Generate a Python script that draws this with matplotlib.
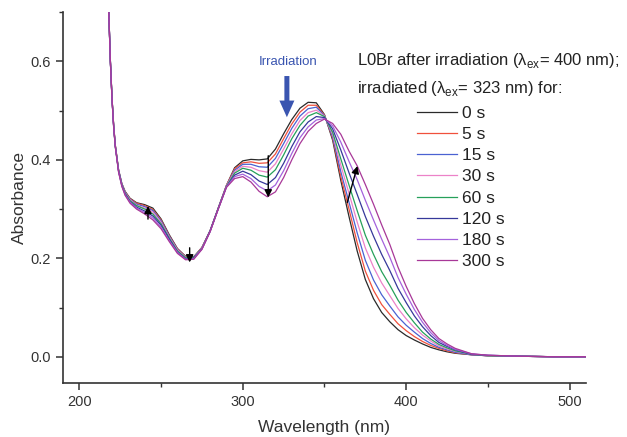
import matplotlib
matplotlib.use("Agg")
import matplotlib.pyplot as plt
from matplotlib.ticker import MultipleLocator

plt.rcParams["font.family"] = ["Liberation Sans", "DejaVu Sans"]
plt.rcParams["mathtext.fontset"] = "custom"
plt.rcParams["mathtext.rm"] = "Liberation Sans"

# длины волн (нм)
wavelength = [218, 219, 220, 221, 222, 224, 226, 228, 231, 235, 240, 245, 250,
              255, 260, 265, 270, 275, 280, 285, 290, 295, 300, 305, 310, 315,
              320, 325, 330, 335, 340, 345, 350, 355, 360, 365, 370, 375, 380,
              385, 390, 395, 400, 405, 410, 415, 420, 425, 430, 440, 450, 470,
              490, 510]

abs_0s = [.700, .600, .525, .470, .430, .380, .352, .336, .322, .313, .309, .302, .280,
          .248, .220, .204, .203, .222, .256, .302, .348, .384, .398, .401, .400, .402,
          .422, .453, .482, .505, .517, .516, .492, .440, .358, .285, .215, .157, .118,
          .090, .071, .055, .043, .034, .026, .019, .014, .010, .007, .004, .002, .001,
          0, 0]
abs_5s = [.700, .600, .525, .470, .430, .379, .351, .335, .321, .312, .307, .299, .278,
          .246, .219, .203, .202, .222, .256, .302, .348, .382, .394, .396, .393, .394,
          .412, .443, .473, .497, .511, .511, .491, .444, .366, .300, .232, .174, .135,
          .106, .086, .067, .053, .041, .031, .023, .017, .012, .008, .004, .002, .001,
          0, 0]
abs_15s = [.700, .600, .524, .469, .429, .379, .351, .334, .320, .310, .305, .297, .276,
           .245, .218, .202, .202, .221, .256, .302, .347, .379, .391, .391, .386, .385,
           .403, .433, .464, .489, .504, .507, .490, .447, .376, .314, .252, .196, .156,
           .126, .103, .081, .064, .050, .037, .027, .019, .014, .009, .004, .002, .001,
           0, 0]
abs_30s = [.700, .599, .524, .469, .429, .378, .350, .333, .319, .308, .302, .294, .273,
           .243, .217, .202, .201, .221, .255, .301, .347, .376, .387, .385, .378, .375,
           .392, .422, .453, .480, .496, .501, .489, .452, .389, .332, .274, .221, .182,
           .150, .124, .098, .077, .059, .044, .032, .022, .016, .011, .005, .002, .001,
           0, 0]
abs_60s = [.700, .599, .524, .468, .428, .378, .349, .332, .317, .307, .300, .290, .270,
           .241, .215, .201, .201, .220, .255, .301, .346, .373, .383, .379, .369, .365,
           .380, .410, .443, .470, .489, .496, .488, .456, .402, .349, .297, .247, .208,
           .173, .145, .115, .090, .069, .050, .036, .025, .018, .012, .005, .002, .001,
           0, 0]
abs_120s = [.700, .599, .523, .467, .427, .377, .348, .331, .315, .304, .296, .286, .267,
            .239, .213, .199, .200, .219, .255, .301, .345, .369, .377, .370, .357, .350,
            .364, .393, .427, .457, .477, .488, .486, .463, .420, .374, .330, .285, .245,
            .208, .175, .139, .110, .083, .061, .043, .029, .021, .014, .005, .003, .001,
            0, 0]
abs_180s = [.700, .598, .522, .467, .427, .376, .347, .329, .314, .302, .293, .282, .263,
            .236, .212, .198, .199, .219, .254, .300, .345, .366, .371, .362, .346, .337,
            .349, .378, .413, .445, .467, .481, .484, .469, .436, .397, .360, .318, .278,
            .239, .202, .161, .127, .096, .070, .049, .033, .023, .015, .006, .003, .001,
            0, 0]
abs_300s = [.700, .598, .522, .466, .426, .375, .346, .328, .312, .300, .290, .278, .260,
            .234, .210, .197, .198, .218, .254, .300, .344, .362, .366, .355, .336, .325,
            .335, .364, .400, .433, .458, .474, .483, .474, .452, .418, .388, .350, .310,
            .268, .228, .182, .143, .108, .078, .055, .037, .026, .017, .006, .003, .001,
            0, 0]

labels = ["0 s", "5 s", "15 s", "30 s", "60 s", "120 s", "180 s", "300 s"]
series = [abs_0s, abs_5s, abs_15s, abs_30s, abs_60s, abs_120s, abs_180s, abs_300s]
colors = ["#2a2a2a", "#f0503c", "#4a62d2", "#ec82c8", "#26a05a",
          "#36389a", "#a462dc", "#a83898"]

fig = plt.figure(figsize=(6.27, 4.37), dpi=100)
ax = fig.add_axes([0.1005, 0.124, 0.834, 0.848])

for y, lab, c in zip(series, labels, colors):
    ax.plot(wavelength, y, color=c, lw=0.9, label=lab)

ax.set_xlim(190, 510)
ax.set_ylim(-0.053, 0.70)
ax.xaxis.set_major_locator(MultipleLocator(100))
ax.xaxis.set_minor_locator(MultipleLocator(50))
ax.yaxis.set_major_locator(MultipleLocator(0.2))
ax.yaxis.set_minor_locator(MultipleLocator(0.1))
ax.yaxis.set_major_formatter(plt.FuncFormatter(lambda v, p: f"{v:.1f}"))
for s in ["top", "right"]:
    ax.spines[s].set_visible(False)
for s in ["left", "bottom"]:
    ax.spines[s].set_linewidth(1.2)
    ax.spines[s].set_color("#333333")
ax.tick_params(which="major", direction="out", length=5, width=1.1,
               labelsize=10.5, colors="#333333")
ax.tick_params(which="minor", direction="out", length=3, width=1.0, colors="#333333")
ax.set_xlabel("Wavelength (nm)", fontsize=12.5, color="#333333", labelpad=8)
ax.set_ylabel("Absorbance", fontsize=12.5, color="#333333", labelpad=3)

# стрелки изменения
arrow = dict(arrowstyle="-|>", color="black", lw=1.0, mutation_scale=11)
ax.annotate("", xy=(242, 0.312), xytext=(242, 0.274), arrowprops=arrow)
ax.annotate("", xy=(267.5, 0.186), xytext=(267.5, 0.227), arrowprops=arrow)
ax.annotate("", xy=(315.6, 0.318), xytext=(315.6, 0.414), arrowprops=arrow)
ax.annotate("", xy=(370.6, 0.393), xytext=(363.5, 0.308), arrowprops=arrow)

ax.annotate("", xy=(327, 0.481), xytext=(327, 0.576),
            arrowprops=dict(arrowstyle="simple,head_width=0.9,head_length=1.0,tail_width=0.3",
                            color="#3a55b0", lw=0, mutation_scale=12))
ax.text(328, 0.598, "Irradiation", color="#3a55b0", fontsize=9.5,
        ha="center", va="center")

ax.text(0.562, 0.871, r"L0Br after irradiation (λ$_{\mathregular{ex}}$= 400 nm);",
        transform=ax.transAxes, fontsize=12, color="#222222", va="center")
ax.text(0.562, 0.795, r"irradiated (λ$_{\mathregular{ex}}$= 323 nm) for:",
        transform=ax.transAxes, fontsize=12, color="#222222", va="center")

ax.legend(loc="upper left", bbox_to_anchor=(0.653, 0.781), frameon=False,
          fontsize=12.5, handlelength=2.3, handletextpad=0.3,
          labelspacing=0.35, borderpad=0.2, labelcolor="#222222")

plt.savefig("out.png", dpi=100)
plt.close()
